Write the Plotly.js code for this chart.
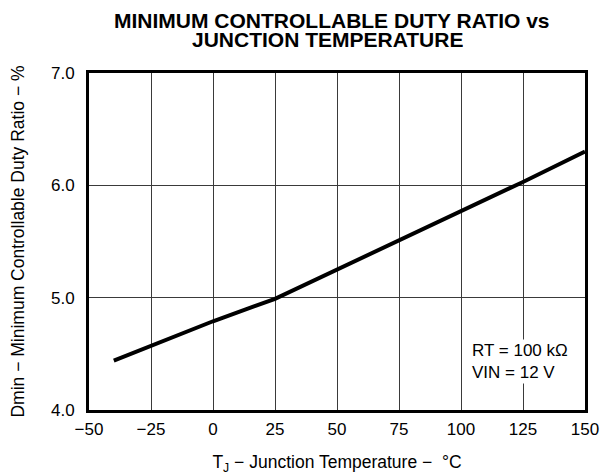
<!DOCTYPE html>
<html>
<head>
<meta charset="utf-8">
<script src="https://cdn.plot.ly/plotly-3.0.1.min.js"></script>
<style>html,body{margin:0;padding:0;background:#fff;}#chart{width:600px;height:475px;}</style>
</head>
<body>
<div id="chart"></div>
<script>
// Data
const temperature = [-40, -25, 0, 25, 50, 75, 100, 125, 150];
const dutyRatio = [4.44, 4.57, 4.79, 4.99, 5.25, 5.51, 5.77, 6.03, 6.30];
const xTicks = [-50, -25, 0, 25, 50, 75, 100, 125, 150];
const xTickLabels = ['\u221250', '\u221225', '0', '25', '50', '75', '100', '125', '150'];
const yTicks = [4, 5, 6, 7];
const yTickLabels = ['4.0', '5.0', '6.0', '7.0'];
const titleLines = ['MINIMUM CONTROLLABLE DUTY RATIO vs', 'JUNCTION TEMPERATURE'];
const noteLines = ['RT = 100 k\u03a9', 'VIN = 12 V'];

const font = 'Liberation Sans, Arial, Helvetica, sans-serif';

const trace = {
  x: temperature,
  y: dutyRatio,
  type: 'scatter',
  mode: 'lines',
  line: {color: '#000', width: 4},
  hoverinfo: 'skip',
  showlegend: false
};

const layout = {
  width: 600,
  height: 475,
  margin: {l: 89, r: 15, t: 73, b: 65},
  paper_bgcolor: '#fff',
  plot_bgcolor: '#fff',
  font: {family: font, color: '#000', size: 17},
  xaxis: {
    range: [-50, 150],
    tickmode: 'array', tickvals: xTicks, ticktext: xTickLabels,
    showgrid: true, gridcolor: '#3a3a3a', gridwidth: 1,
    zeroline: false,
    showline: true, linecolor: '#000', linewidth: 3, mirror: true,
    ticks: '', ticklabelstandoff: 2,
    tickfont: {family: font, size: 17, color: '#000'},
    title: {text: 'T<sub>J</sub> \u2212 Junction Temperature \u2212  \u00b0C', font: {family: font, size: 17.5, color: '#000'}, standoff: 22},
    fixedrange: true
  },
  yaxis: {
    range: [4, 7],
    tickmode: 'array', tickvals: yTicks, ticktext: yTickLabels,
    showgrid: true, gridcolor: '#3a3a3a', gridwidth: 1,
    zeroline: false,
    showline: true, linecolor: '#000', linewidth: 3, mirror: true,
    ticks: '', ticklabelstandoff: 8,
    tickfont: {family: font, size: 17, color: '#000'},
    title: {text: 'Dmin \u2212 Minimum Controllable Duty Ratio \u2212 %', font: {family: font, size: 17.5, color: '#000'}, standoff: 22},
    fixedrange: true
  },
  annotations: [
    {
      xref: 'paper', yref: 'paper', x: 0.49, y: 1.157,
      xanchor: 'center', yanchor: 'middle', height: 18,
      text: '<b>' + titleLines[0] + '</b>', showarrow: false,
      font: {family: font, size: 21, color: '#000'}
    },
    {
      xref: 'paper', yref: 'paper', x: 0.48, y: 1.100,
      xanchor: 'center', yanchor: 'middle', height: 18,
      text: '<b>' + titleLines[1] + '</b>', showarrow: false,
      font: {family: font, size: 21, color: '#000'}
    },
    {
      xref: 'x', yref: 'y', x: 103.5, y: 4.43,
      xanchor: 'left', yanchor: 'middle', align: 'left',
      text: noteLines.join('<br>'),
      showarrow: false,
      bgcolor: '#fff',
      font: {family: font, size: 17, color: '#000'}
    }
  ]
};

Plotly.newPlot('chart', [trace], layout, {displayModeBar: false, staticPlot: true});
</script>
</body>
</html>
